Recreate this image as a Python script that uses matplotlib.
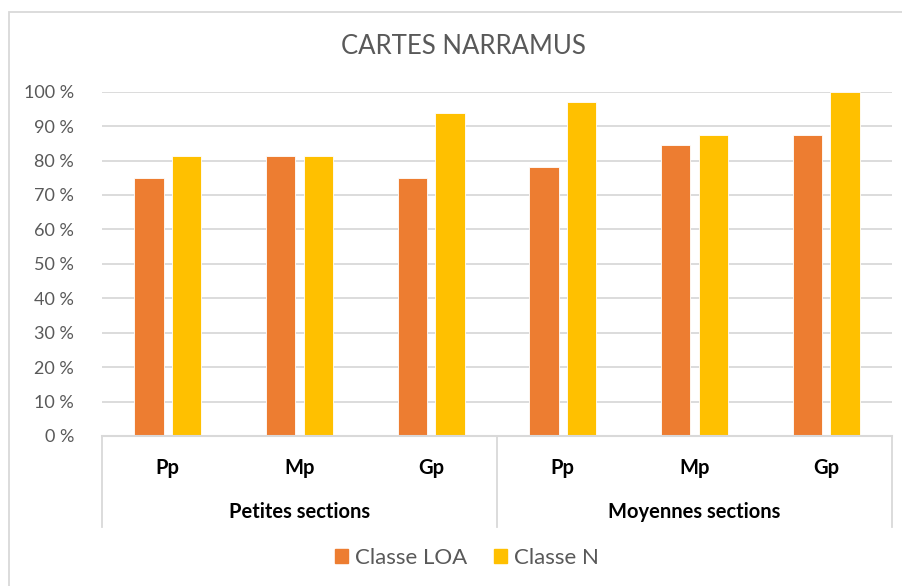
import matplotlib
matplotlib.use('Agg')
import matplotlib.pyplot as plt
import matplotlib.patches as mpatches
import numpy as np

# ── Data ──────────────────────────────────────────────────────────────────────
TITLE = 'CARTES NARRAMUS'
SECTIONS = ['Petites sections', 'Moyennes sections']
CATEGORIES = ['Pp', 'Mp', 'Gp', 'Pp', 'Mp', 'Gp']
SERIES = ['Classe LOA', 'Classe N']
LOA = [75.0, 81.25, 75.0, 78.0, 84.4, 87.5]
CLASSE_N = [81.25, 81.25, 93.75, 96.9, 87.5, 100.0]
YTICKS = [0, 10, 20, 30, 40, 50, 60, 70, 80, 90, 100]

COLORS = ['#ED7D31', '#FFC000']
GRID = '#D9D9D9'
TXT = '#595959'
FONT = 'Lato'

W, H = 903, 586
plt.rcParams['font.family'] = [FONT, 'DejaVu Sans']

fig = plt.figure(figsize=(W / 100, H / 100), dpi=100)

# outer chart frame (light gray, top + left visible)
frame = mpatches.Rectangle((9 / W, -0.1), 1.2, 1 - 12 / H + 0.1,
                           transform=fig.transFigure, fill=False,
                           edgecolor=GRID, linewidth=1.3)
fig.patches.append(frame)

ax = fig.add_axes([102 / W, 1 - 436 / H, 790 / W, (436 - 91.7) / H])

x = np.arange(len(CATEGORIES))
bw, off = 0.224, 0.143
ax.bar(x - off, LOA, width=bw, color=COLORS[0], edgecolor='white',
       linewidth=0.6, zorder=3, label=SERIES[0])
ax.bar(x + off, CLASSE_N, width=bw, color=COLORS[1], edgecolor='white',
       linewidth=0.6, zorder=3, label=SERIES[1])

ax.set_xlim(-0.5, len(CATEGORIES) - 0.5)
ax.set_ylim(0, 100)
ax.set_yticks(YTICKS)
ax.set_yticklabels([f'{v} %' for v in YTICKS], color=TXT, fontsize=13)
ax.tick_params(axis='y', length=0, pad=20)
ax.set_xticks([])
for s in ax.spines.values():
    s.set_visible(False)
ax.yaxis.grid(True, color=GRID, linewidth=1.3, zorder=0)
ax.set_axisbelow(True)
ax.axhline(0, color=GRID, linewidth=1.5, zorder=4, clip_on=False)

# category labels and separators below the axis
tr = ax.get_xaxis_transform()
for i, cat in enumerate(CATEGORIES):
    ax.text(i, -0.093, cat, transform=tr, ha='center', va='center',
            fontsize=14.5, fontweight='bold', color='black')
for k, sec in enumerate(SECTIONS):
    ax.text(k * 3 + 1, -0.221, sec, transform=tr, ha='center', va='center',
            fontsize=14.5, fontweight='bold', color='black')
for xs in [-0.5, 2.5, 5.5]:
    ax.plot([xs, xs], [0, -0.264], transform=tr, color=GRID,
            linewidth=1.3, clip_on=False)

fig.text(463 / W, 1 - 47 / H, TITLE, ha='center', va='center',
         fontsize=18.5, color=TXT)

handles = [mpatches.Patch(color=c, label=l) for c, l in zip(COLORS, SERIES)]
fig.legend(handles=handles, loc='center', ncol=2,
           bbox_to_anchor=(467 / W, 1 - 558 / H), frameon=False,
           fontsize=16, labelcolor=TXT, handlelength=0.6, handleheight=0.6,
           handletextpad=0.3, columnspacing=1.2)

fig.savefig('out.png', dpi=100)
